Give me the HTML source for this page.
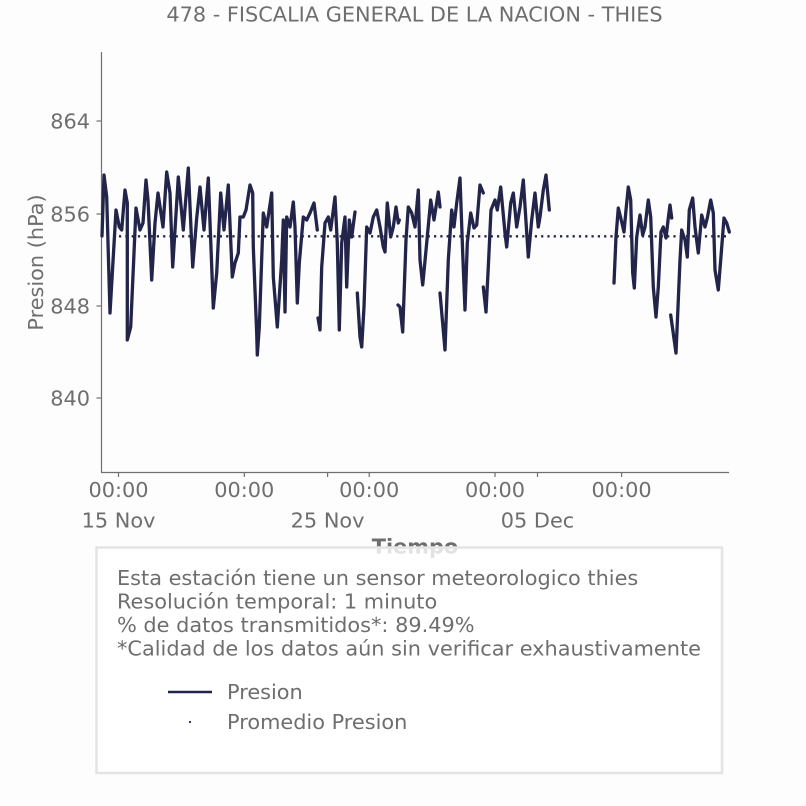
<!DOCTYPE html>
<html>
<head>
<meta charset="utf-8">
<style>
  html,body{margin:0;padding:0;background:#fdfdfd;}
  svg{display:block;}
  text{font-family:"DejaVu Sans","Liberation Sans",sans-serif;fill:#6e6e6e;}
</style>
</head>
<body>
<svg width="806" height="806" viewBox="0 0 806 806" xmlns="http://www.w3.org/2000/svg">
  <rect x="0" y="0" width="806" height="806" fill="#fdfdfd"/>

  <!-- Title -->
  <text x="414.5" y="21.5" font-size="20.85" text-anchor="middle">478 - FISCALIA GENERAL DE LA NACION - THIES</text>

  <!-- Axes spines -->
  <line x1="101.5" y1="52" x2="101.5" y2="472.5" stroke="#707070" stroke-width="1.2"/>
  <line x1="101" y1="472.5" x2="729" y2="472.5" stroke="#707070" stroke-width="1.2"/>

  <!-- Y ticks -->
  <g stroke="#707070" stroke-width="1.2">
    <line x1="96.5" y1="121" x2="101.5" y2="121"/>
    <line x1="96.5" y1="214" x2="101.5" y2="214"/>
    <line x1="96.5" y1="306" x2="101.5" y2="306"/>
    <line x1="96.5" y1="398" x2="101.5" y2="398"/>
  </g>
  <g font-size="20.85" text-anchor="end">
    <text x="90" y="128.5">864</text>
    <text x="90" y="221.5">856</text>
    <text x="90" y="313.5">848</text>
    <text x="90" y="405.5">840</text>
  </g>

  <!-- X ticks -->
  <g stroke="#707070" stroke-width="1.2">
    <line x1="118.5" y1="472.5" x2="118.5" y2="477"/>
    <line x1="244.3" y1="472.5" x2="244.3" y2="477"/>
    <line x1="327.6" y1="472.5" x2="327.6" y2="477"/>
    <line x1="369.2" y1="472.5" x2="369.2" y2="477"/>
    <line x1="495" y1="472.5" x2="495" y2="477"/>
    <line x1="537.5" y1="472.5" x2="537.5" y2="477"/>
    <line x1="621.6" y1="472.5" x2="621.6" y2="477"/>
  </g>
  <g font-size="20.85" text-anchor="middle">
    <text x="118.5" y="497">00:00</text>
    <text x="244.3" y="497">00:00</text>
    <text x="369.2" y="497">00:00</text>
    <text x="495" y="497">00:00</text>
    <text x="621.6" y="497">00:00</text>
    <text x="118.5" y="527.5">15 Nov</text>
    <text x="327.6" y="527.5">25 Nov</text>
    <text x="537.5" y="527.5">05 Dec</text>
  </g>

  <!-- Axis labels -->
  <text x="415" y="553.5" font-size="20.85" font-weight="bold" text-anchor="middle">Tiempo</text>
  <text transform="translate(43,262.5) rotate(-90)" font-size="20.85" text-anchor="middle">Presion (hPa)</text>

  <!-- Mean line (dotted) -->
  <line x1="119" y1="236.3" x2="729" y2="236.3" stroke="#22244a" stroke-width="2.3" stroke-dasharray="2.2 4.1"/>

  <!-- Pressure series -->
  <path fill="none" stroke="#22244a" stroke-width="3.3" stroke-linejoin="round" stroke-linecap="round"
    d="M102,236 L104,175 L106.7,197 L110,313 L116,210 L119.3,227 L121.7,230 L125,190 L127.3,203 L127.3,340 L130.7,327 L136,208 L140,230 L143,223 L146,180 L148,200 L151.7,280 L155,223 L158,193 L163,227 L166.7,172 L170,193 L172.7,267 L178.3,177 L183.3,230 L188.3,168 L192.7,267 L196.7,218 L200,187 L204,230 L208.3,178 L213.3,308 L216.7,273 L220.7,193 L224,230 L228.3,185 L232.3,277 L235,263 L238.3,253 L240,217 L243.3,217 L246,210 L250,185 L252.7,193 L253.3,247 L256.7,333 L257.3,355 L259.3,327 L263.3,213 L266.7,227 L271.7,193 L273.3,277 L277.3,327 L281.7,260 L283.3,220 L285,312 L286.7,217 L290,227 L293.3,202 L295,227 L297.3,303 L299.3,263 L303.3,217 L306.7,220 L310,213 L314,203 L317.3,230
    M318,318 L320,330 L321.7,267 L325,223 L328.3,217 L330.7,230 L335,197 L337.3,243 L339.3,330 L341.7,243 L345,217 L346.7,287 L349.3,220 L351.7,237 L355,212
    M357.3,293 L360,337 L361.7,347 L364,307 L366.7,227 L370,233 L373.3,217 L376.7,210 L380,227 L383.3,247 L385,252 L387.3,203 L390.7,237 L393.3,227 L396,207 L398.3,223 L399.3,220
    M398,305 L400,307 L402.7,332 L406,240 L408.3,207 L411.7,213 L415,227 L418.3,190 L420,260 L422.7,285 L426.7,243 L430.7,200 L434,220 L438.3,192 L440,207
    M440,293 L445,350 L448.3,260 L451.7,210 L454,227 L456.7,203 L460,178 L462.7,253 L465,310 L467.3,243 L470.7,213 L474,228 L476.7,225 L480,185 L483.3,193
    M483.3,287 L486,312 L488.3,267 L491,210 L495,200 L497.3,210 L500.7,187 L505,233 L506.7,247 L510.7,203 L513.3,193 L516.7,227 L520,207 L523.3,180 L528.3,257 L531.7,220 L535,193 L538.3,227 L540,217 L543.3,190 L546,175 L549.3,210
    M614,283 L616,237 L618.3,208 L621.7,222 L624,232 L626,210 L628.3,187 L630.7,200 L632.7,273 L634.3,288 L636.7,237 L640,215 L642.7,235 L645,227 L648.3,200 L650.7,217 L653.3,287 L656,317 L658.3,287 L661,232 L663.3,227 L666,238 L668.3,218 L670,205 L671.7,218
    M670.7,315 L676,353 L678.3,300 L680,260 L681.7,230 L685,240 L687.3,257 L689.3,210 L692.7,198 L695,227 L698.3,253 L701.7,215 L705,227 L707.3,218 L710.7,200 L713.3,213 L715,270 L718.3,290 L720.7,260 L724,218 L726.7,223 L729.3,232"/>

  <!-- Legend box -->
  <rect x="96.5" y="547.5" width="625.5" height="225.5" fill="#ffffff" fill-opacity="0.8" stroke="#e4e4e4" stroke-width="2.5"/>
  <g font-size="20.85">
    <text x="117" y="585">Esta estación tiene un sensor meteorologico thies</text>
    <text x="117" y="608.5">Resolución temporal: 1 minuto</text>
    <text x="117" y="632">% de datos transmitidos*: 89.49%</text>
    <text x="117" y="655.5">*Calidad de los datos aún sin verificar exhaustivamente</text>
    <text x="227" y="699">Presion</text>
    <text x="227" y="729">Promedio Presion</text>
  </g>
  <line x1="168" y1="692" x2="212" y2="692" stroke="#22244a" stroke-width="2.6"/>
  <circle cx="190" cy="722" r="1.1" fill="#22244a"/>
</svg>
</body>
</html>
